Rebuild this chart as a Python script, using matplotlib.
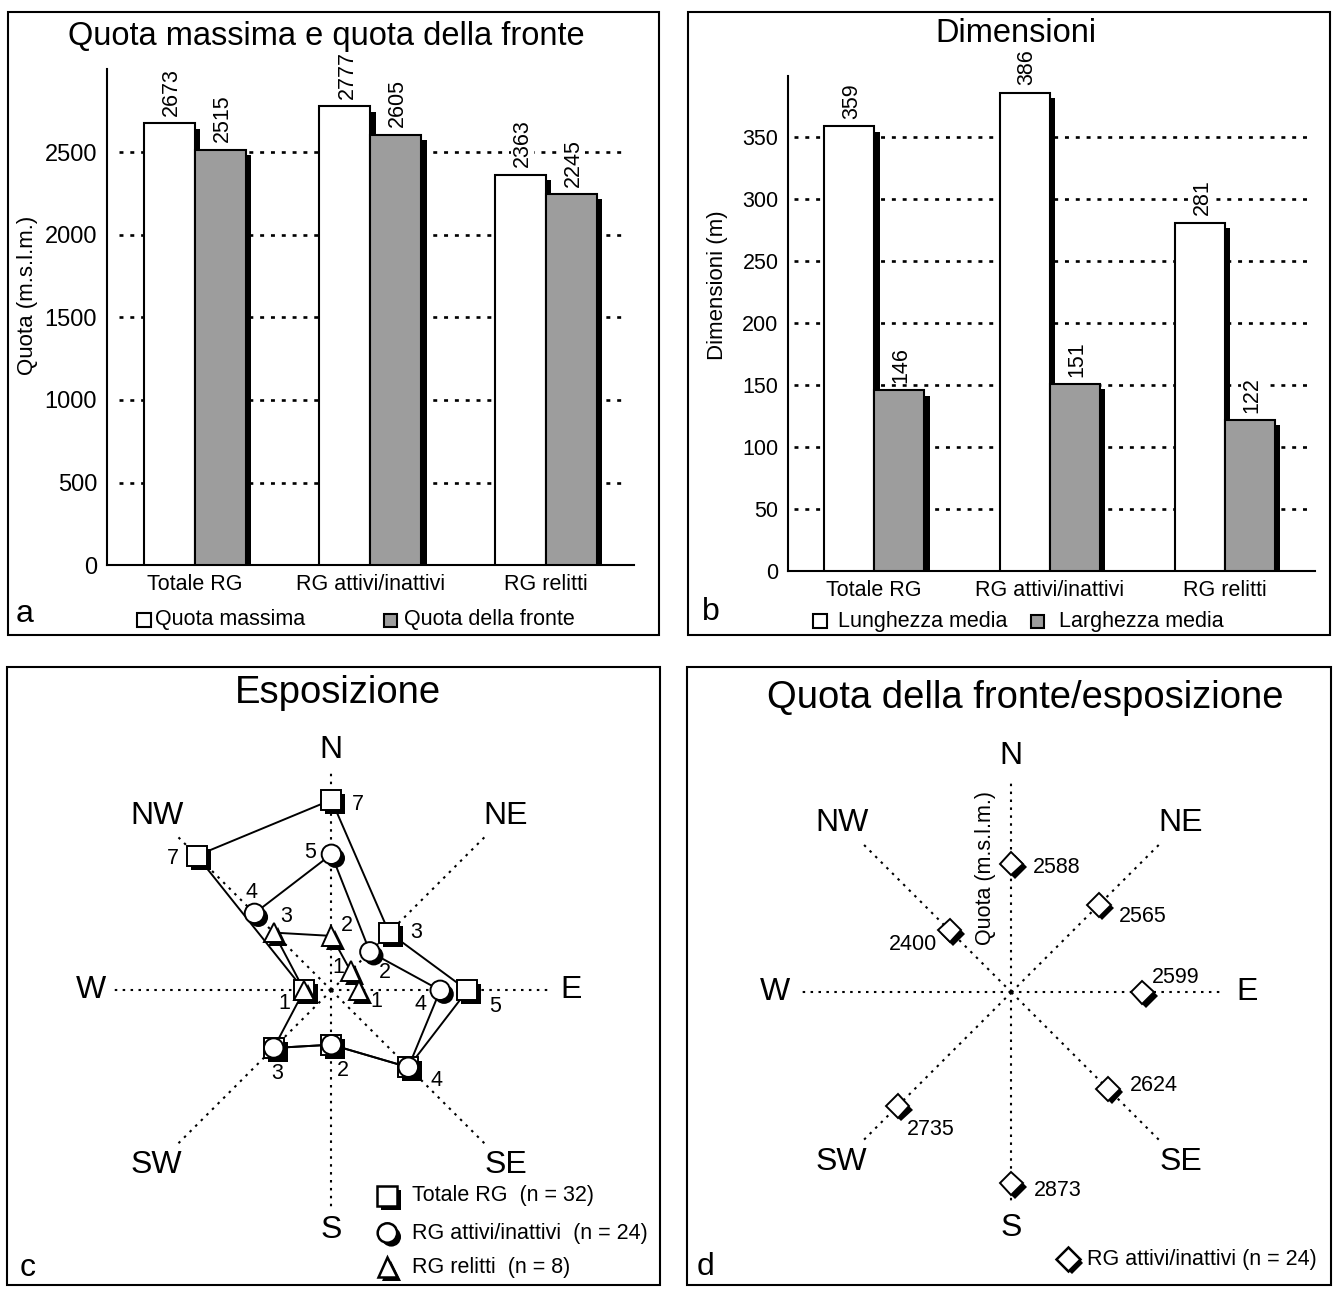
import numpy as np
import matplotlib
matplotlib.use('Agg')
import matplotlib.pyplot as plt
from matplotlib import patheffects as pe
from matplotlib.patches import Rectangle

plt.rcParams['font.family'] = ['Liberation Sans', 'DejaVu Sans']

# dati
gruppi = ['Totale RG', 'RG attivi/inattivi', 'RG relitti']
quota_massima = [2673, 2777, 2363]
quota_fronte = [2515, 2605, 2245]
lunghezza_media = [359, 386, 281]
larghezza_media = [146, 151, 122]

direzioni = ['N', 'NE', 'E', 'SE', 'S', 'SW', 'W', 'NW']
n_totale = [7, 3, 5, 4, 2, 3, 1, 7]
n_attivi = [5, 2, 4, 4, 2, 3, 0, 4]
n_relitti = [2, 1, 1, 0, 0, 0, 1, 3]
quota_fronte_dir = [2588, 2565, 2599, 2624, 2873, 2735, np.nan, 2400]

W, H = 1333, 1289
GREY = '#9d9d9d'
fig = plt.figure(figsize=(W / 100, H / 100), dpi=100)


def px_axes(x0, y0, x1, y1, **kw):
    return fig.add_axes([x0 / W, 1 - y1 / H, (x1 - x0) / W, (y1 - y0) / H], **kw)


def shadow(off=3.8):
    return [pe.SimplePatchShadow(offset=(off, -off), shadow_rgbFace='black', alpha=1.0), pe.Normal()]


# overlay in pixel coordinates for frames, titles, legends (on top of everything)
ov = px_axes(0, 0, W, H)
ov.set_xlim(0, W)
ov.set_ylim(H, 0)
ov.axis('off')
ov.set_zorder(10)
for (x0, y0, x1, y1) in [(8, 12, 659, 635), (688, 12, 1330, 635), (7, 667, 660, 1285), (687, 667, 1331, 1285)]:
    ov.add_patch(Rectangle((x0, y0), x1 - x0, y1 - y0, fill=False, ec='black', lw=1.5))


def bar_panel(box, xlim, ylim, yticks, wvals, gvals, width, grid_x, ytick_size):
    ax = px_axes(*box)
    ax.set_facecolor('none')
    ax.set_xlim(*xlim)
    ax.set_ylim(*ylim)
    for s in ['top', 'right']:
        ax.spines[s].set_visible(False)
    for s in ['left', 'bottom']:
        ax.spines[s].set_linewidth(1.5)
    x = np.arange(len(gruppi))
    ax.hlines(yticks[1:], grid_x[0], grid_x[1], colors='black',
              linestyles=(0, (1.5, 2.6)), lw=1.9, zorder=1)
    ax.bar(x - width / 2, wvals, width, color='white', edgecolor='black', lw=1.5, zorder=3, path_effects=shadow())
    ax.bar(x + width / 2, gvals, width, color=GREY, edgecolor='black', lw=1.5, zorder=4, path_effects=shadow())
    for xi, v in list(zip(x - width / 2, wvals)) + list(zip(x + width / 2, gvals)):
        ax.annotate(str(v), (xi, v), xytext=(1.5, 5.5), textcoords='offset points', rotation=90,
                    ha='center', va='bottom', fontsize=15.5, zorder=5,
                    bbox=dict(fc='white', ec='none', pad=0.8))
    ax.set_yticks(yticks)
    ax.set_xticks(x)
    ax.set_xticklabels(gruppi)
    ax.tick_params(axis='y', length=0, pad=7, labelsize=ytick_size)
    ax.tick_params(axis='x', length=0, pad=6, labelsize=15.5)
    return ax


# a
bar_panel((106.75, 69.4, 633.85, 565.3), (-0.5, 2.5), (0, 3000), list(range(0, 3000, 500)),
          quota_massima, quota_fronte, 0.29, (-0.43, 2.46), 17)
ov.text(326, 36, 'Quota massima e quota della fronte', ha='center', va='center', fontsize=23.5)
ov.text(28, 295, 'Quota (m.s.l.m.)', rotation=90, ha='center', va='center', fontsize=16)
ov.add_patch(Rectangle((137, 613), 14, 14, fc='white', ec='black', lw=1.5))
ov.text(155, 620, 'Quota massima', ha='left', va='center', fontsize=15.5)
ov.add_patch(Rectangle((384, 614), 13, 13, fc=GREY, ec='black', lw=1.5))
ov.text(404, 620, 'Quota della fronte', ha='left', va='center', fontsize=15.5)
ov.text(25, 614, 'a', ha='center', va='center', fontsize=23)

# b
bar_panel((788.3, 75.5, 1314.5, 571.4), (-0.49, 2.51), (0, 400), list(range(0, 400, 50)),
          lunghezza_media, larghezza_media, 0.285, (-0.46, 2.47), 15.5)
ov.text(1016, 34, 'Dimensioni', ha='center', va='center', fontsize=23.5)
ov.text(717, 285, 'Dimensioni (m)', rotation=90, ha='center', va='center', fontsize=16)
ov.add_patch(Rectangle((813, 614), 14, 14, fc='white', ec='black', lw=1.5))
ov.text(838, 621, 'Lunghezza media', ha='left', va='center', fontsize=15.5)
ov.add_patch(Rectangle((1031, 615), 13, 13, fc=GREY, ec='black', lw=1.5))
ov.text(1059, 621, 'Larghezza media', ha='left', va='center', fontsize=15.5)
ov.text(711, 612, 'b', ha='center', va='center', fontsize=23)

theta = np.deg2rad(np.arange(0, 360, 45))


def compass(center, R, r0, scale, line_px, lab_px):
    cx, cy = center
    ax = px_axes(cx - R, cy - R, cx + R, cy + R, projection='polar')
    ax.set_theta_zero_location('N')
    ax.set_theta_direction(-1)
    ax.set_rlim(r0, r0 + R / scale)
    ax.grid(False)
    ax.set_xticks([])
    ax.set_yticks([])
    ax.spines['polar'].set_visible(False)
    ax.set_facecolor('none')
    for t in theta:
        ax.plot([t, t], [r0, r0 + line_px / scale], color='black', lw=1.5, ls=(0, (1.2, 2.6)), zorder=1)
    for t, d in zip(theta, direzioni):
        rp = lab_px[0] if len(d) == 1 else lab_px[1]
        ax.text(t, r0 + rp / scale, d, ha='center', va='center', fontsize=23)
    return ax


# c
axc = compass((331.4, 990.3), 262, 0, 27.2, 221, (240, 247))
ov.text(338, 693, 'Esposizione', ha='center', va='center', fontsize=27.5)

series = [
    (n_totale, 's', 14.5, 3),
    (n_attivi, 'o', 14, 4),
    (n_relitti, '^', 14, 5),
]
th_closed = np.append(theta, theta[0])
for vals, mk, ms, z in series:
    v = np.array(vals, dtype=float)
    v[v == 0] = np.nan
    axc.plot(th_closed, np.append(v, v[0]), color='black', lw=1.4, zorder=2)
    axc.plot(theta, v, ls='none', marker=mk, ms=ms, mfc='white', mec='black', mew=1.4,
             zorder=z, path_effects=shadow(2.8))

# label offsets in pixels (dx, dy up)
offs_tot = [(26, -5), (27, 0), (28, -16), (28, -13), (11, -26), (3, -26), (-20, -13), (-24, -3)]
offs_att = [(-21, 2), (15, -21), (-20, -14), None, None, None, None, (-3, 21)]
offs_rel = [(15, 10), (-12, 4), (18, -11), None, None, None, None, (12, 16)]
for vals, offs in [(n_totale, offs_tot), (n_attivi, offs_att), (n_relitti, offs_rel)]:
    for t, v, o in zip(theta, vals, offs):
        if v == 0 or o is None:
            continue
        axc.annotate(str(v), (t, v), xytext=o, textcoords='offset pixels',
                     ha='center', va='center', fontsize=15.5, zorder=6)

for (y, mk, ms, txt) in [(1196, 's', 14.5, 'Totale RG  (n = 32)'),
                         (1233, 'o', 14, 'RG attivi/inattivi  (n = 24)'),
                         (1267, '^', 14, 'RG relitti  (n = 8)')]:
    ov.plot([387.4], [y], ls='none', marker=mk, ms=ms, mfc='white', mec='black', mew=1.8,
            path_effects=shadow(2.8))
    ov.text(412, y, txt, ha='left', va='center', fontsize=15.5)
ov.text(28, 1268, 'c', ha='center', va='center', fontsize=23)

# d
axd = compass((1011.4, 992.3), 262, 2000, 0.2188, 213, (236, 240))
ov.text(1025, 698, 'Quota della fronte/esposizione', ha='center', va='center', fontsize=27.5)
axd.plot(theta, quota_fronte_dir, ls='none', marker='D', ms=12, mfc='white', mec='black', mew=1.4,
         zorder=3, path_effects=shadow(2.6))
offs_d = [(21, -4, 'left'), (20, -12, 'left'), (9, 15, 'left'), (22, 3, 'left'),
          (22, -7, 'left'), (9, -23, 'left'), None, (-12, -14, 'right')]
for t, q, o in zip(theta, quota_fronte_dir, offs_d):
    if o is None or np.isnan(q):
        continue
    axd.annotate('%d' % q, (t, q), xytext=o[:2], textcoords='offset pixels',
                 ha=o[2], va='center', fontsize=15.5)
ov.text(985, 868, 'Quota (m.s.l.m.)', rotation=90, ha='center', va='center', fontsize=15.5)
ov.plot([1068], [1259], ls='none', marker='D', ms=12, mfc='white', mec='black', mew=1.8,
        path_effects=shadow(2.6))
ov.text(1087, 1259, 'RG attivi/inattivi (n = 24)', ha='left', va='center', fontsize=15.5)
ov.text(705, 1267, 'd', ha='center', va='center', fontsize=23)

fig.savefig('out.png', dpi=100)
